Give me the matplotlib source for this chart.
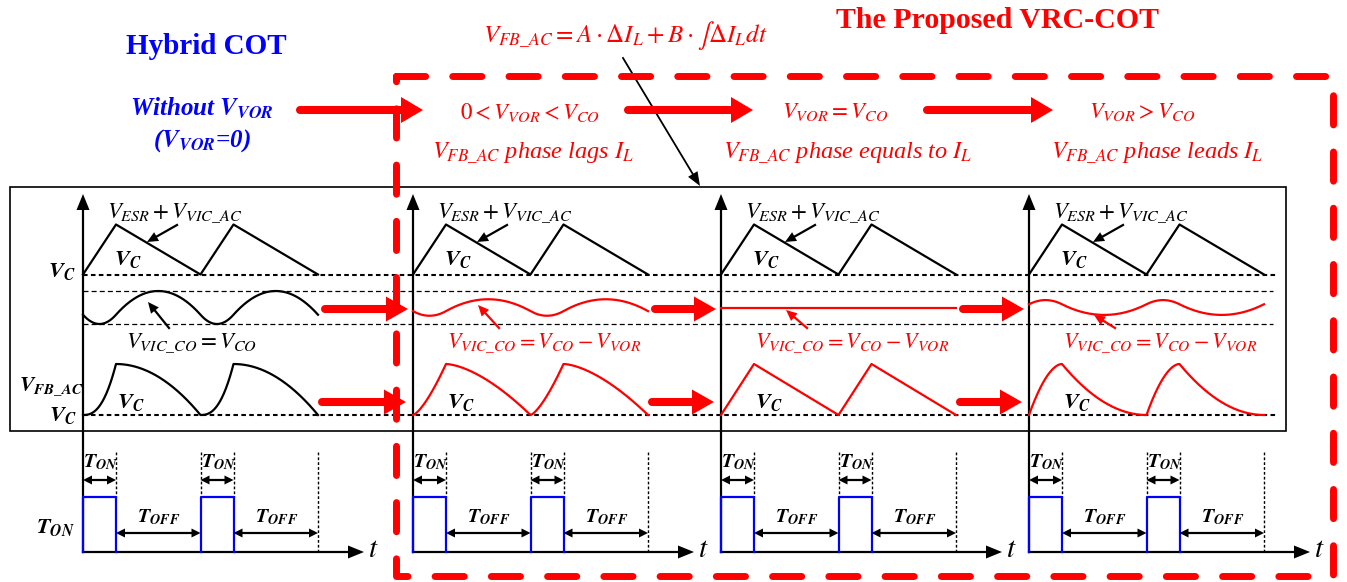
import numpy as np
import matplotlib.pyplot as plt
from matplotlib.patches import Polygon, Rectangle

plt.rcParams['font.family'] = 'Liberation Serif'
plt.rcParams['mathtext.fontset'] = 'stix'

# one column per operating case
cases = ["Hybrid COT", "0 < V_VOR < V_CO", "V_VOR = V_CO", "V_VOR > V_CO"]
vic_co_gain = [1.0, 0.5, 0.0, -0.45]   # V_VIC_CO ripple relative to V_CO
fb_rise_bend = [2.5, 1.4, 1.0, 0.55]   # curvature of V_FB_AC during T_ON
fb_fall_bend = [2.0, 1.6, 1.0, 0.5]    # curvature of V_FB_AC during T_OFF
case_titles = [r"$0<V_{VOR}<V_{CO}$", r"$V_{VOR}=V_{CO}$", r"$V_{VOR}>V_{CO}$"]
phase_texts = [r"$V_{FB\_AC}$ phase lags $I_L$",
               r"$V_{FB\_AC}$ phase equals to $I_L$",
               r"$V_{FB\_AC}$ phase leads $I_L$"]
t_on, t_sw, n_cycles = 33.0, 117.5, 2

# drawing layout (pixels)
panel_x = [83, 413, 721, 1029]
y_vc_top, y_band_hi, y_band_lo, y_vc_bot = 274.5, 291, 324, 415
y_band_mid = (y_band_hi + y_band_lo) / 2
esr_h, band_h, fb_h = 50, 33, 51
y_t, y_pulse = 552, 497
RED, BLUE = '#ff0000', '#0000ff'

fig = plt.figure(figsize=(13.47, 5.82), dpi=100)
ax = fig.add_axes([0, 0, 1, 1])
ax.set_xlim(0, 1347)
ax.set_ylim(582, 0)
ax.axis('off')


def bend(u, p):
    return u ** p if p >= 1 else 1 - (1 - u) ** (1 / p)


def cycle_time():
    u = np.linspace(0, 1, 80)
    s = np.linspace(0, 1, 200)
    t, on, frac = [], [], []
    for k in range(n_cycles):
        t += list(k * t_sw + u * t_on)
        on += [True] * len(u)
        frac += list(u)
        t += list(k * t_sw + t_on + s * (t_sw - t_on))
        on += [False] * len(s)
        frac += list(s)
    return np.array(t), np.array(on), np.array(frac)


t, on, frac = cycle_time()

# ESR + VIC_AC ripple follows the inductor current triangle
saw = np.where(on, frac, 1 - frac)
i_l = np.where(on, -1 + 2 * frac, 1 - 2 * frac)
q = np.concatenate([[0], np.cumsum(0.5 * (i_l[1:] + i_l[:-1]) * np.diff(t))])
q = (q - (q.max() + q.min()) / 2) / (q.max() - q.min())


def arrow_head(x, y, dx, dy, length, width, color):
    n = np.hypot(dx, dy)
    ux, uy = dx / n, dy / n
    bx, by = x - ux * length, y - uy * length
    ax.add_patch(Polygon([[x, y], [bx - uy * width / 2, by + ux * width / 2],
                          [bx + uy * width / 2, by - ux * width / 2]],
                         closed=True, color=color, lw=0, zorder=5))


def block_arrow(x1, x2, y, shaft=5.8, head_w=25, head_l=22):
    ax.plot([x1, x2 - head_l + 2], [y, y], color=RED, lw=shaft,
            solid_capstyle='round', zorder=5)
    arrow_head(x2, y, 1, 0, head_l, head_w, RED)


def pointer(x1, y1, x2, y2, color, lw=1.6, hl=11, hw=10):
    n = np.hypot(x2 - x1, y2 - y1)
    ax.plot([x1, x2 - (x2 - x1) / n * hl * 0.8], [y1, y2 - (y2 - y1) / n * hl * 0.8],
            color=color, lw=lw, zorder=4)
    arrow_head(x2, y2, x2 - x1, y2 - y1, hl, hw, color)


def dbl_arrow(x1, x2, y):
    ax.plot([x1 + 6, x2 - 6], [y, y], color='black', lw=1.6)
    arrow_head(x2, y, 1, 0, 9, 9, 'black')
    arrow_head(x1, y, -1, 0, 9, 9, 'black')


def bfit(sym, sub):
    return r"$\mathbfit{%s}_{\mathbfit{%s}}$" % (sym, sub)


# outer frame of the waveform area
ax.add_patch(Rectangle((10, 187), 1276, 244, fill=False, ec='black', lw=1.2, zorder=2))

# reference levels
x_end = panel_x[-1] + 248
for y in (y_vc_top, y_vc_bot):
    ax.plot([panel_x[0], x_end], [y, y], color='black', lw=1.5, ls=(0, (2.2, 1.6)), zorder=2)
for y in (y_band_hi, y_band_lo):
    ax.plot([panel_x[0], x_end - 4], [y, y], color='black', lw=0.9, ls=(0, (4, 2.5)), zorder=2)

for k, x0 in enumerate(panel_x):
    col = 'black' if k == 0 else RED
    xs = x0 + t
    # axes
    ax.plot([x0, x0], [y_t, 208], color='black', lw=1.6, zorder=3)
    arrow_head(x0, 194, 0, -1, 16, 13, 'black')
    ax.plot([x0, x0 + 266], [y_t, y_t], color='black', lw=1.6, zorder=3)
    arrow_head(x0 + 281, y_t, 1, 0, 16, 13, 'black')
    ax.text(x0 + 290, y_t - 2, r"$t$", fontsize=21, ha='center', va='center')

    # waveforms
    ax.plot(xs, y_vc_top - esr_h * saw, color='black', lw=1.6, zorder=4)
    ax.plot(xs, y_band_mid - vic_co_gain[k] * band_h * q, color=col, lw=1.6, zorder=4)
    fb = np.where(on, bend(frac, fb_rise_bend[k]), 1 - bend(frac, fb_fall_bend[k]))
    ax.plot(xs, y_vc_bot - fb_h * fb, color=col, lw=1.6, zorder=4)

    # labels inside each panel
    ax.text(x0 + 92, 218, r"$V_{ESR}+V_{VIC\_AC}$", fontsize=16.5, ha='center', va='baseline')
    pointer(x0 + 94, 225, x0 + 64, 242, 'black')
    ax.text(x0 + 45, 265, bfit('V', 'C'), fontsize=16, ha='center', va='baseline')
    ax.text(x0 + 48, 408, bfit('V', 'C'), fontsize=16, ha='center', va='baseline')
    tip_y = [302, 305, 310, 315][k]
    if k == 0:
        ax.text(x0 + 109, 348, r"$V_{VIC\_CO}=V_{CO}$", fontsize=16.5, ha='center', va='baseline')
    else:
        ax.text(x0 + 131, 347, r"$V_{VIC\_CO}=V_{CO}-V_{VOR}$", fontsize=16,
                ha='center', va='baseline', color=RED)
    pointer(x0 + 86, 328, x0 + 65, tip_y, col)

    # switching pulses
    for c in range(n_cycles):
        xa = x0 + c * t_sw
        ax.plot([xa, xa, xa + t_on, xa + t_on], [y_t, y_pulse, y_pulse, y_t],
                color=BLUE, lw=1.6, zorder=4)
        if c > 0:
            ax.plot([xa, xa], [452, y_pulse], color='black', lw=1.0, ls=(0, (2, 1.5)))
        ax.plot([xa + t_on, xa + t_on], [452, y_pulse], color='black', lw=1.0, ls=(0, (2, 1.5)))
        dbl_arrow(xa, xa + t_on, 480)
        dbl_arrow(xa + t_on, xa + t_sw, 533)
        ax.text(xa + 18, 462, bfit('T', 'ON'), fontsize=14.5, ha='center', va='center')
        ax.text(xa + t_on + 43, 517, bfit('T', 'OFF'), fontsize=14.5, ha='center', va='center')
    xe = x0 + n_cycles * t_sw
    ax.plot([xe, xe], [452, y_t], color='black', lw=1.0, ls=(0, (2, 1.5)))

# left-hand level labels
ax.text(62, 272, bfit('V', 'C'), fontsize=16, ha='center', va='center')
ax.text(51, 387, bfit('V', 'FB\_AC'), fontsize=15.5, ha='center', va='center')
ax.text(63, 416, bfit('V', 'C'), fontsize=16, ha='center', va='center')
ax.text(55, 528, bfit('T', 'ON'), fontsize=16, ha='center', va='center')

# transitions between cases
for k in range(3):
    block_arrow(panel_x[k] + 242, panel_x[k + 1] - 5, 309)
    block_arrow(panel_x[k] + 239, panel_x[k + 1] - 7, 402)
for x1, x2 in [(300, 423), (628, 753), (927, 1053)]:
    block_arrow(x1, x2, 110, head_w=26)

# headings
ax.text(206, 46, cases[0], fontsize=21, fontweight='bold', color=BLUE, ha='center', va='center')
ax.text(202, 108, r"Without $\mathbfit{V}_{\mathbfit{VOR}}$", fontsize=18, fontweight='bold',
        fontstyle='italic', color=BLUE, ha='center', va='center')
ax.text(202, 141, r"($\mathbfit{V}_{\mathbfit{VOR}}$=0)", fontsize=18, fontweight='bold',
        fontstyle='italic', color=BLUE, ha='center', va='center')
ax.text(998, 21, "The Proposed VRC-COT", fontsize=21.5, fontweight='bold', color=RED,
        ha='center', va='center')
ax.text(625, 35, r"$V_{FB\_AC}=A\cdot\Delta I_L+B\cdot\int\Delta I_L dt$", fontsize=18,
        color=RED, ha='center', va='center')
for xc, title in zip([530, 835, 1142], case_titles):
    ax.text(xc, 112, title, fontsize=16.5, color=RED, ha='center', va='center')
for xc, label in zip([533, 848, 1157], phase_texts):
    ax.text(xc, 153, label, fontsize=17.5, color=RED, fontstyle='italic', ha='center', va='center')
pointer(623, 58, 700, 186, 'black', lw=1.3, hl=14, hw=11)

# proposed-method enclosure
ax.add_patch(Rectangle((396, 76), 937, 500, fill=False, ec=RED, lw=5,
                       ls=(0, (4.2, 3.9)), capstyle='round', joinstyle='round', zorder=6))

fig.savefig('out.png', dpi=100)
